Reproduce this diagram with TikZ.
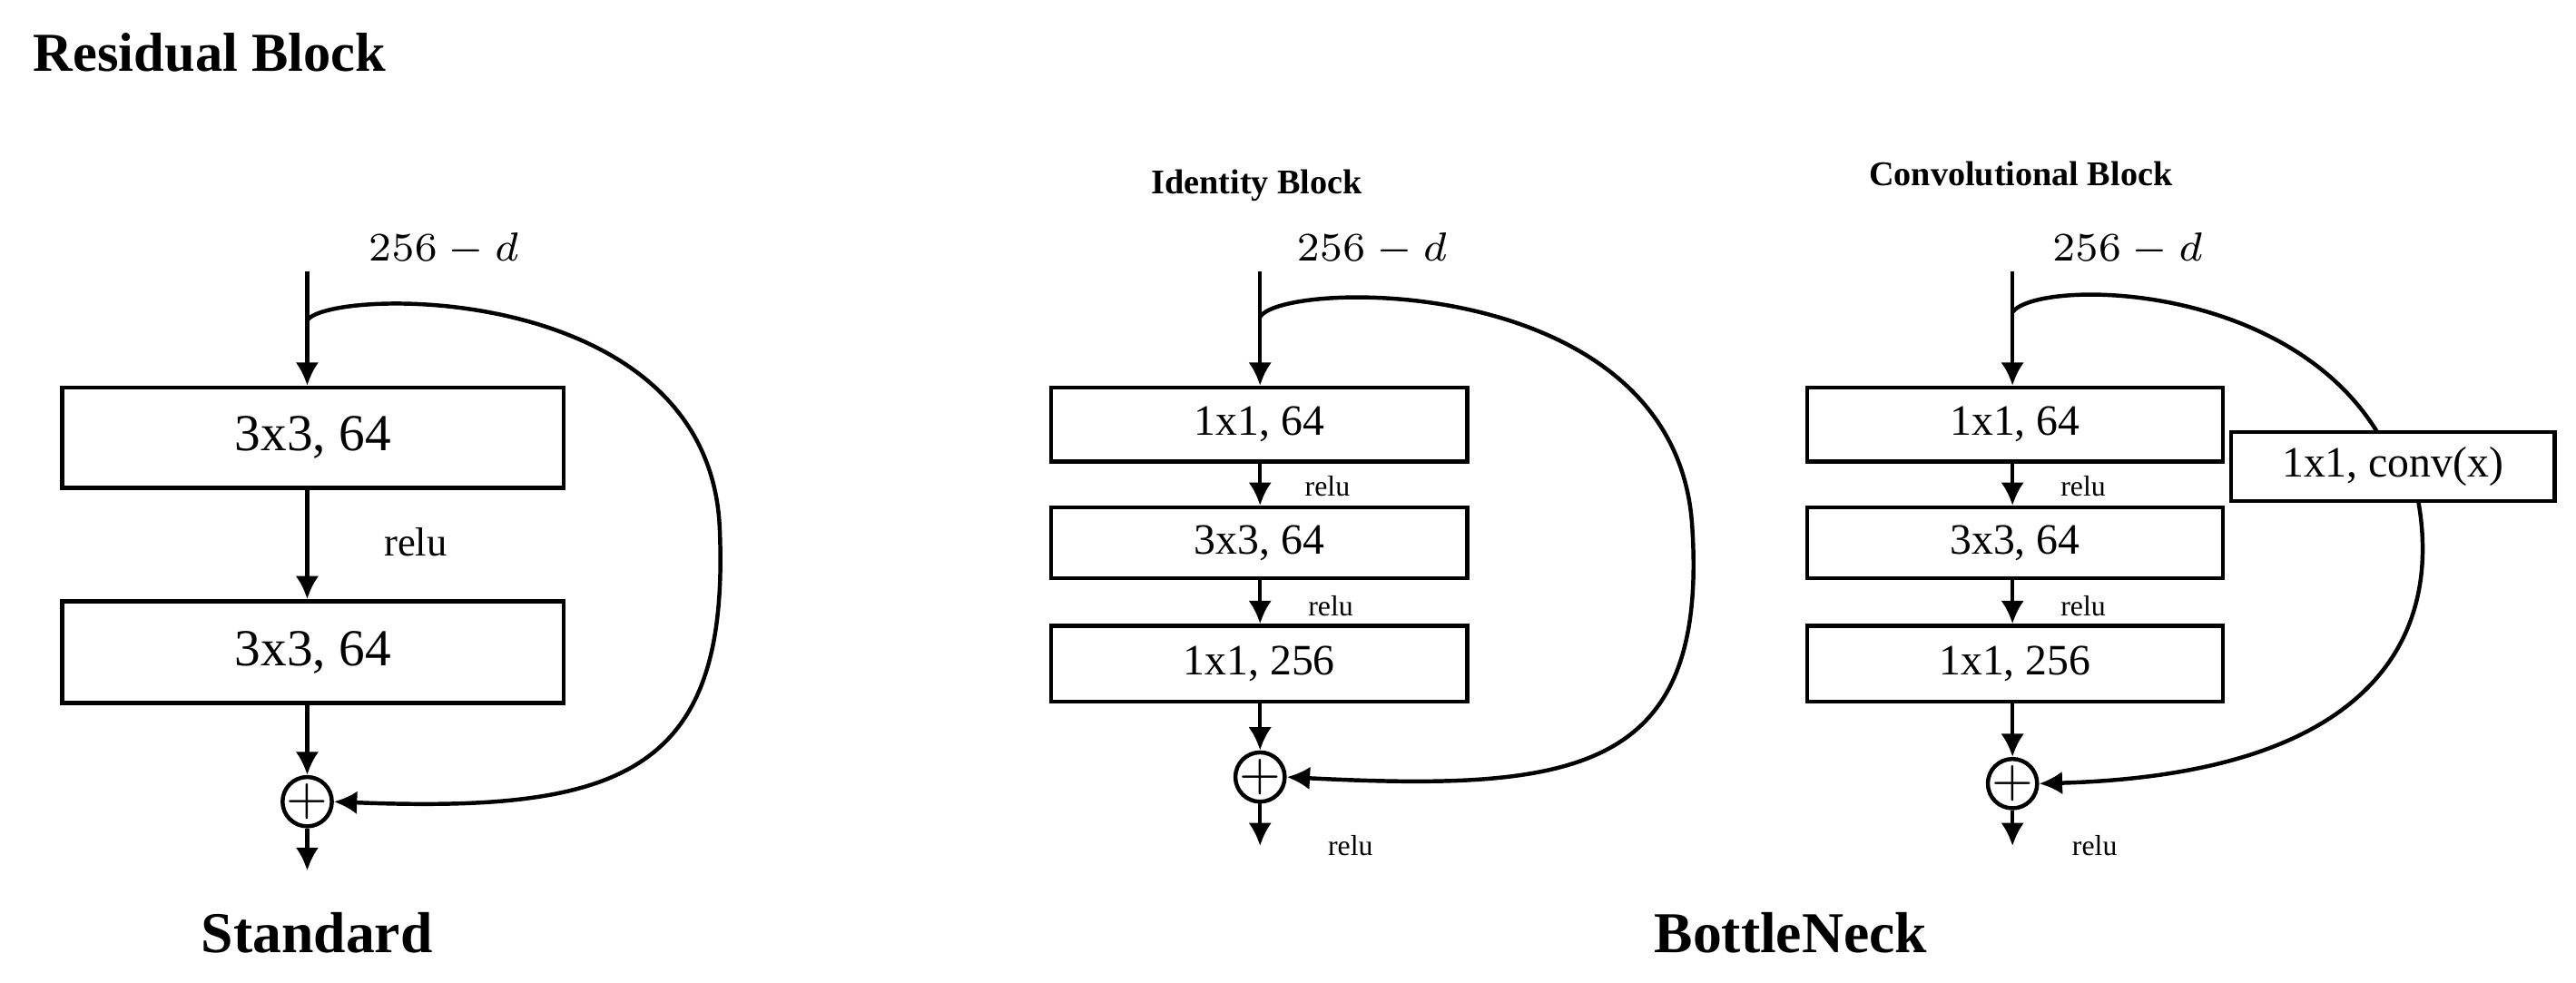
\documentclass[tikz,border=0pt]{standalone}
\usepackage{fontspec}
\setmainfont{Liberation Serif}
\usetikzlibrary{arrows.meta}
\begin{document}
\begin{tikzpicture}[x=0.01cm,y=-0.01cm,
  blk/.style={draw,line width=0.7pt,inner sep=0pt},
  arr/.style={-{Latex[length=4pt,width=4pt]},line width=0.7pt},
  ln/.style={line width=0.7pt},
  add/.style={draw,circle,line width=0.7pt,minimum size=0.3cm,inner sep=0pt},
  lab/.style={font=\fontsize{5}{6}\selectfont},
  t/.style={font=\fontsize{7.5}{9}\selectfont},
  tb/.style={font=\fontsize{9}{11}\selectfont},
  hd/.style={font=\bfseries\fontsize{6}{7}\selectfont}]
\useasboundingbox (0,0) rectangle (1568,598);
\node[anchor=west,font=\bfseries\fontsize{9.5}{11}\selectfont] (title) at (8,32) {Residual Block};
% Standard
\node[font=\fontsize{7}{8}\selectfont] (sd) at (270,152) {$256-d$};
\coordinate (sin) at (187,165);
\node[blk,tb,minimum width=3.05cm,minimum height=0.61cm] (s1) at (190.5,266.5) {3x3, 64};
\node[blk,tb,minimum width=3.05cm,minimum height=0.62cm] (s2) at (190.5,397) {3x3, 64};
\node[font=\fontsize{7}{8}\selectfont] (sr) at (253,330) {relu};
\node[add] (sa) at (187,488) {};
\node[font=\fontsize{9}{10}\selectfont] at (sa) {$+$};
\coordinate (sout) at (187,530);
\draw[arr] (sin) -- (s1.north -| sin);
\draw[arr] (s1.south -| sin) -- (s2.north -| sin);
\draw[arr] (s2.south -| sin) -- (sa.north);
\draw[arr] (sa.south) -- (sout);
\coordinate (ss) at (187,195);
\draw[arr] (ss) .. controls (200,175) and (430,170) .. (438,320) .. controls (445,470) and (380,495) .. (sa.east);
\node[font=\bfseries\fontsize{10}{12}\selectfont] (st) at (193,568) {Standard};
% Identity
\node[hd] (ih) at (765,113) {Identity Block};
\node[font=\fontsize{7}{8}\selectfont] (id) at (835,152) {$256-d$};
\coordinate (iin) at (767,165);
\node[blk,t,minimum width=2.53cm,minimum height=0.45cm] (i1) at (766.5,258.5) {1x1, 64};
\node[blk,t,minimum width=2.53cm,minimum height=0.43cm] (i2) at (766.5,330.5) {3x3, 64};
\node[blk,t,minimum width=2.53cm,minimum height=0.46cm] (i3) at (766.5,404) {1x1, 256};
\node[lab] at (808,296) {relu};
\node[lab] at (810,369) {relu};
\node[add] (ia) at (767,473) {};
\node[font=\fontsize{9}{10}\selectfont] at (ia) {$+$};
\node[lab] at (822,515) {relu};
\coordinate (iout) at (767,515);
\draw[arr] (iin) -- (i1.north -| iin);
\draw[arr] (i1.south -| iin) -- (i2.north -| iin);
\draw[arr] (i2.south -| iin) -- (i3.north -| iin);
\draw[arr] (i3.south -| iin) -- (ia.north);
\draw[arr] (ia.south) -- (iout);
\coordinate (is) at (767,193);
\draw[arr] (is) .. controls (780,170) and (1020,165) .. (1030,320) .. controls (1040,470) and (960,482) .. (ia.east);
% Convolutional
\node[hd] (ch) at (1230,106) {Convolutional Block};
\node[font=\fontsize{7}{8}\selectfont] (cd) at (1295,152) {$256-d$};
\coordinate (cin) at (1225,165);
\node[blk,t,minimum width=2.53cm,minimum height=0.45cm] (c1) at (1226.5,258.5) {1x1, 64};
\node[blk,t,minimum width=2.53cm,minimum height=0.43cm] (c2) at (1226.5,330.5) {3x3, 64};
\node[blk,t,minimum width=2.53cm,minimum height=0.46cm] (c3) at (1226.5,404) {1x1, 256};
\node[blk,t,minimum width=1.97cm,minimum height=0.42cm] (cc) at (1456.5,284) {1x1, conv(x)};
\node[lab] at (1268,296) {relu};
\node[lab] at (1268,369) {relu};
\node[add] (ca) at (1225,477) {};
\node[font=\fontsize{9}{10}\selectfont] at (ca) {$+$};
\node[lab] at (1275,515) {relu};
\coordinate (cout) at (1225,515);
\draw[arr] (cin) -- (c1.north -| cin);
\draw[arr] (c1.south -| cin) -- (c2.north -| cin);
\draw[arr] (c2.south -| cin) -- (c3.north -| cin);
\draw[arr] (c3.south -| cin) -- (ca.north);
\draw[arr] (ca.south) -- (cout);
\coordinate (cs) at (1225,190);
\coordinate (ct) at (1447,263);
\coordinate (cb) at (1472,305);
\draw[ln] (cs) .. controls (1240,170) and (1390,170) .. (ct);
\draw[arr] (cb) .. controls (1480,350) and (1485,470) .. (ca.east);
\node[font=\bfseries\fontsize{10}{12}\selectfont] (bn) at (1090,568) {BottleNeck};
\end{tikzpicture}
\end{document}
